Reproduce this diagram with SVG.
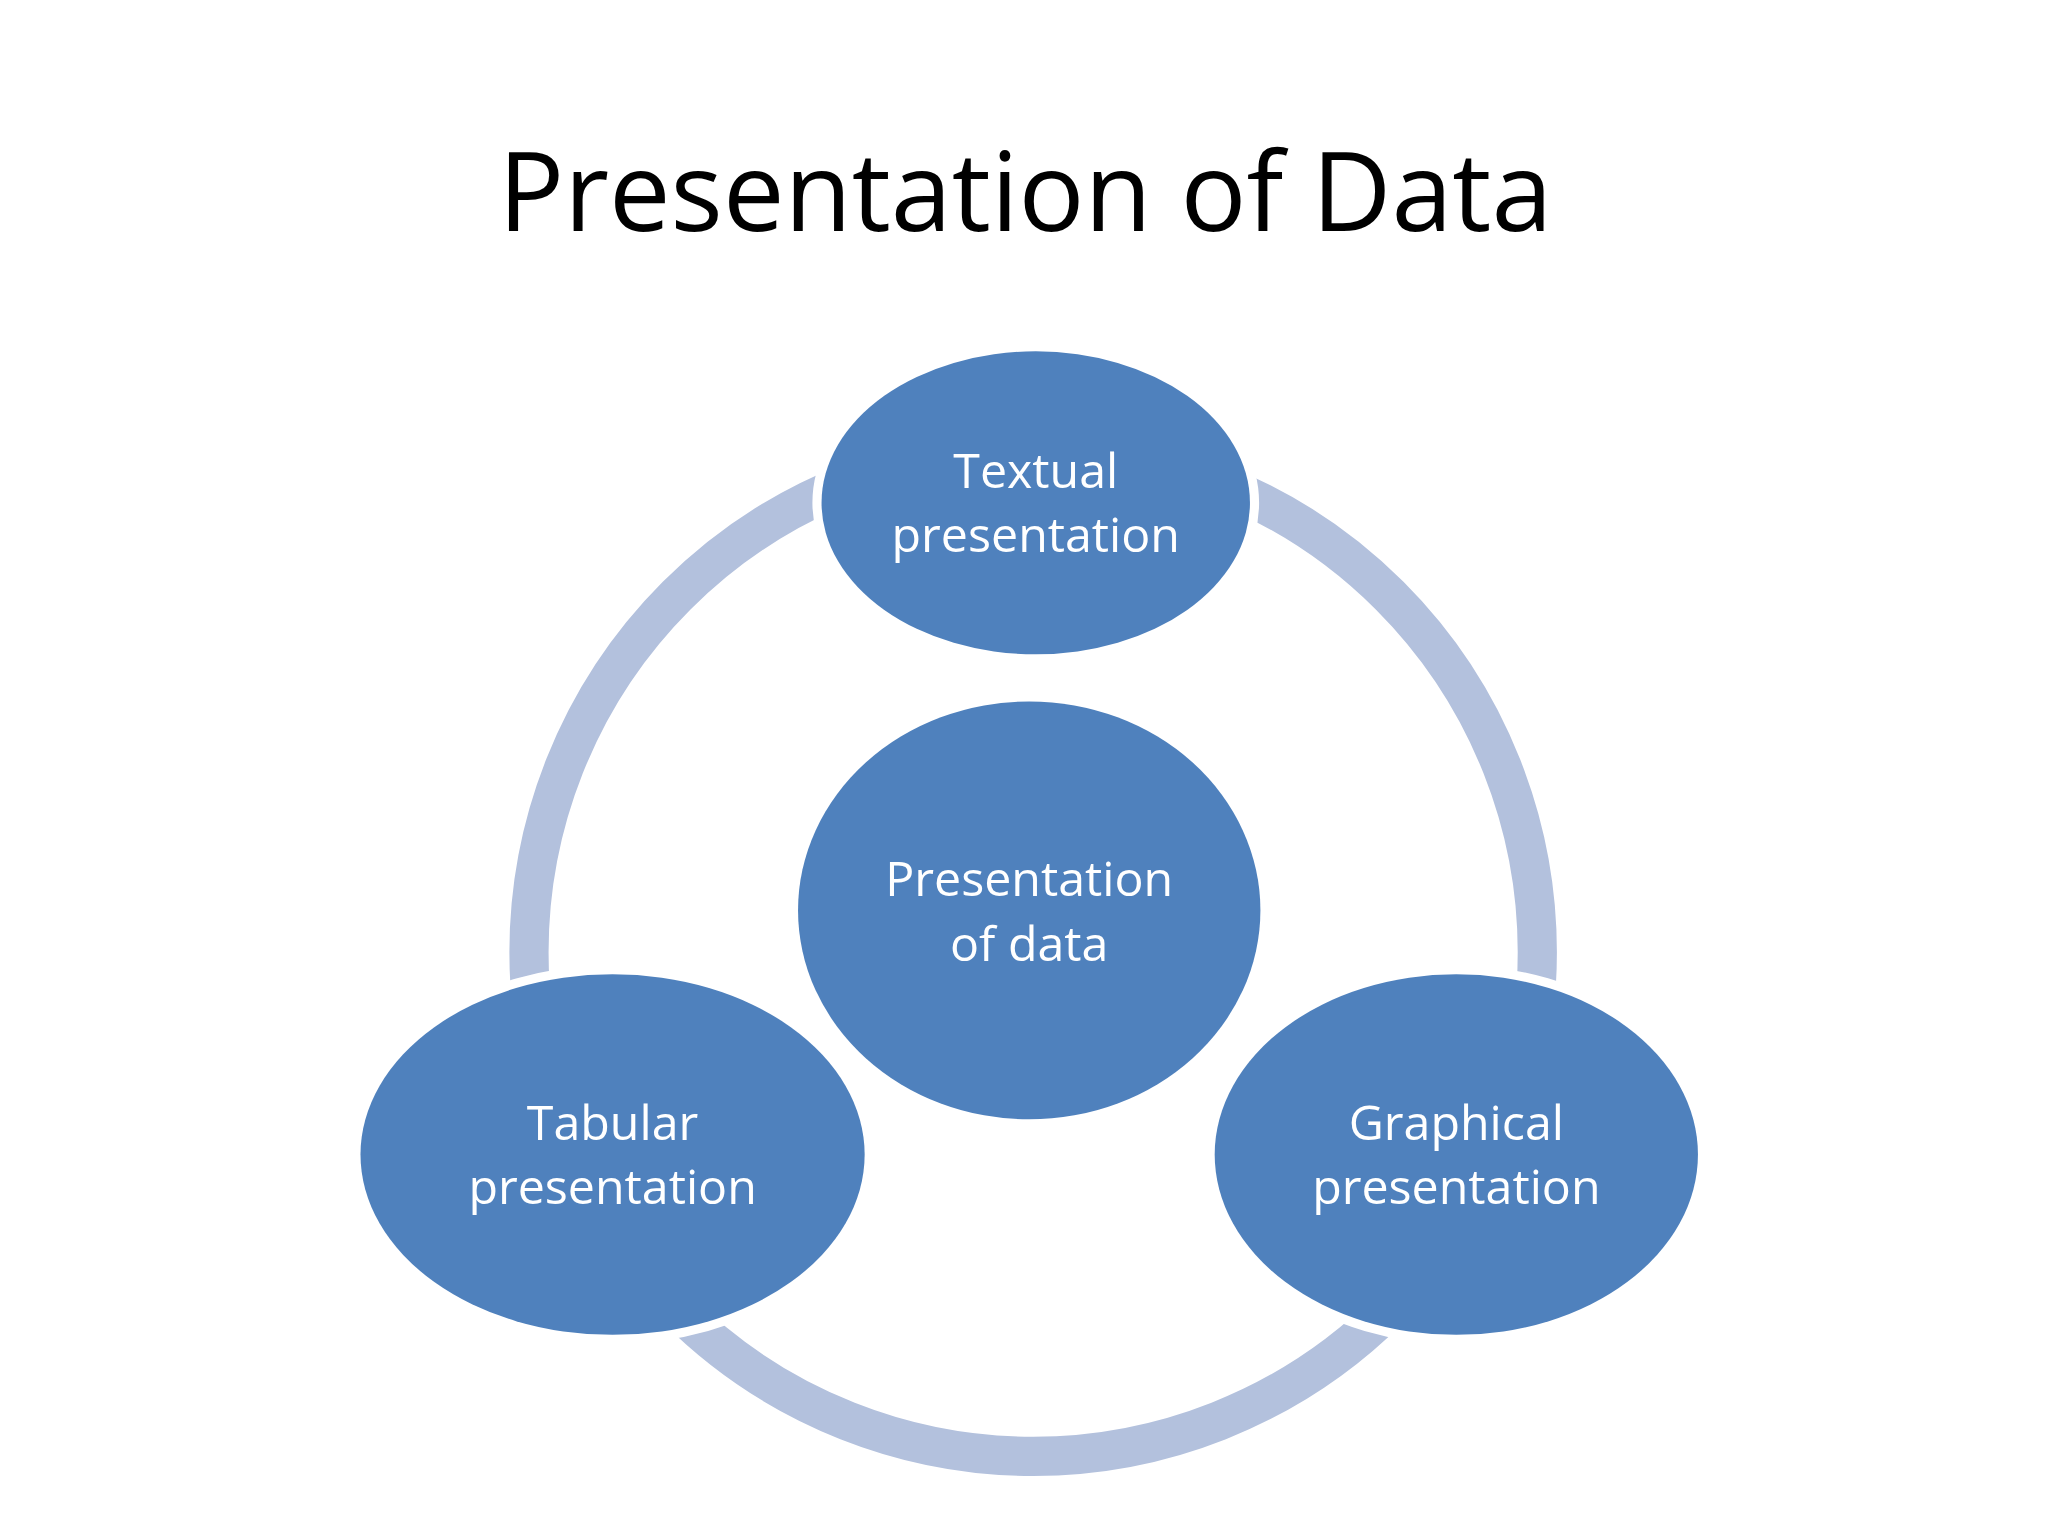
<svg xmlns="http://www.w3.org/2000/svg" width="2048" height="1536" viewBox="0 0 2048 1536">
<style>
.n{fill:#4F81BD;stroke:#fff;stroke-width:4}
.t{font-family:"Open Sans","Noto Sans",sans-serif;font-size:37px;fill:#fff;text-anchor:middle}
</style>
<rect width="2048" height="1536" fill="#fff"/>
<g transform="scale(1.30612)">
<text x="785" y="177" font-family="Open Sans, Noto Sans, sans-serif" font-size="84" text-anchor="middle" fill="#000">Presentation of Data</text>
<g id="connectors">
<circle cx="791" cy="729" r="386" fill="none" stroke="#B3C1DD" stroke-width="30"/>
</g>
<g id="textual"><ellipse class="n" cx="793" cy="385" rx="166" ry="118" style="stroke-width:10"/><ellipse class="n" cx="793" cy="385" rx="164" ry="116" style="stroke:none"/><text class="t" x="793" y="374">Textual</text><text class="t" x="793" y="423">presentation</text></g>
<g id="tabular"><ellipse class="n" cx="469" cy="884" rx="195" ry="140" style="stroke-width:10"/><ellipse class="n" cx="469" cy="884" rx="193" ry="138" style="stroke:none"/><text class="t" x="469" y="873">Tabular</text><text class="t" x="469" y="922">presentation</text></g>
<g id="graphical"><ellipse class="n" cx="1115" cy="884" rx="187" ry="140" style="stroke-width:10"/><ellipse class="n" cx="1115" cy="884" rx="185" ry="138" style="stroke:none"/><text class="t" x="1115" y="873">Graphical</text><text class="t" x="1115" y="922">presentation</text></g>
<g id="center"><ellipse class="n" cx="788" cy="697" rx="177" ry="160" style="stroke:none"/><text class="t" x="788" y="686">Presentation</text><text class="t" x="788" y="736">of data</text></g>
</g>
</svg>
